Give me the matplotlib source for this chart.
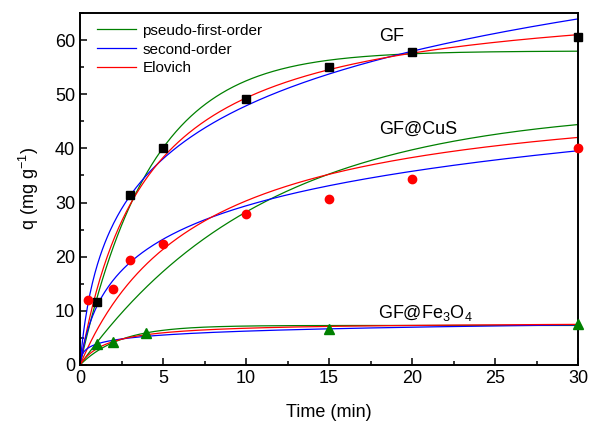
import numpy as np
import matplotlib
matplotlib.use("Agg")
import matplotlib.pyplot as plt
from matplotlib.ticker import MultipleLocator

plt.rcParams["font.family"] = ["Liberation Sans", "DejaVu Sans"]
plt.rcParams["mathtext.fontset"] = "custom"
plt.rcParams["mathtext.rm"] = "Liberation Sans"
plt.rcParams["mathtext.it"] = "Liberation Sans"

# measured points
t_gf = [1, 3, 5, 10, 15, 20, 30]
q_gf = [11.7, 31.3, 40.0, 49.2, 55.0, 57.8, 60.5]
t_cus = [0.5, 2, 3, 5, 10, 15, 20, 30]
q_cus = [12.0, 14.1, 19.3, 22.4, 27.9, 30.6, 34.3, 40.1]
t_fe = [1, 2, 4, 15, 30]
q_fe = [3.9, 4.3, 5.9, 6.7, 7.5]

# fitted model parameters, order: GF, GF@CuS, GF@Fe3O4
pfo_qe = [58.0, 47.6, 7.3]
pfo_k = [0.235, 0.09, 0.42]
pso_qe = [69.2, 52.1, 7.91]
pso_u = [0.248, 0.139, 0.604]      # qe * k2
elo_a = [35.0, 19.9, 40.3]
elo_b = [0.0667, 0.105, 0.952]

labels = ["GF", "GF@CuS", "GF@Fe$_3$O$_4$"]
label_pos = [(18.8, 60.6), (20.4, 43.5), (20.8, 9.6)]

GREEN = "#008000"
RED = "#ff0000"
BLUE = "#0000ff"

t = np.linspace(0, 30, 400)

fig = plt.figure(figsize=(5.9, 4.24), dpi=100)
ax = fig.add_axes([0.1356, 0.1392, 0.8441, 0.8301])

for i in range(3):
    q1 = pfo_qe[i] * (1 - np.exp(-pfo_k[i] * t))
    q2 = pso_qe[i] * pso_u[i] * t / (1 + pso_u[i] * t)
    q3 = np.log(1 + elo_a[i] * elo_b[i] * t) / elo_b[i]
    ax.plot(t, q1, color=GREEN, lw=0.9,
            label="pseudo-first-order" if i == 0 else None)
    ax.plot(t, q3, color=BLUE, lw=0.9,
            label="second-order" if i == 0 else None)
    ax.plot(t, q2, color=RED, lw=0.9,
            label="Elovich" if i == 0 else None)

ax.plot(t_gf, q_gf, "s", color="black", ms=5.5, clip_on=False, zorder=5)
ax.plot(t_cus, q_cus, "o", color=RED, ms=6, clip_on=False, zorder=5)
ax.plot(t_fe, q_fe, "^", color=GREEN, ms=6.5, clip_on=False, zorder=5)

for lab, (x, y) in zip(labels, label_pos):
    ax.text(x, y, lab, fontsize=13, ha="center", va="center")

ax.set_xlim(0, 30)
ax.set_ylim(0, 65)
ax.xaxis.set_major_locator(MultipleLocator(5))
ax.xaxis.set_minor_locator(MultipleLocator(2.5))
ax.yaxis.set_major_locator(MultipleLocator(10))
ax.yaxis.set_minor_locator(MultipleLocator(5))
ax.tick_params(which="both", direction="in", top=False, right=False,
               labelsize=13, width=1.1)
ax.tick_params(which="major", length=5)
ax.tick_params(which="minor", length=3)
for s in ax.spines.values():
    s.set_linewidth(1.4)

ax.set_xlabel("Time (min)", fontsize=13, labelpad=12)
ax.set_ylabel("q (mg g$^{-1}$)", fontsize=13, labelpad=10)

ax.legend(loc="upper left", bbox_to_anchor=(0.012, 1.0), frameon=False,
          fontsize=11, handlelength=2.6, handletextpad=0.4,
          labelspacing=0.32, borderaxespad=0.3)

fig.savefig("out.png", dpi=100)
